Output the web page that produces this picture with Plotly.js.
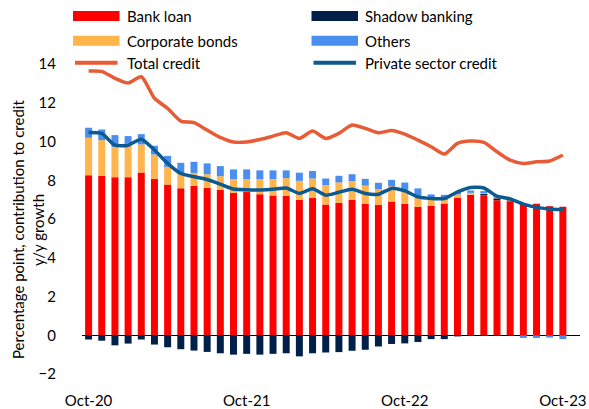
<!DOCTYPE html>
<html><head><meta charset="utf-8">
<script src="https://cdn.plot.ly/plotly-3.0.1.min.js"></script>
<style>html,body{margin:0;padding:0;background:#fff}#chart{width:589px;height:409px}</style>
</head><body><div id="chart"></div>
<script>
const months = ["Oct-20","Nov-20","Dec-20","Jan-21","Feb-21","Mar-21","Apr-21","May-21","Jun-21","Jul-21","Aug-21","Sep-21",
"Oct-21","Nov-21","Dec-21","Jan-22","Feb-22","Mar-22","Apr-22","May-22","Jun-22","Jul-22","Aug-22","Sep-22",
"Oct-22","Nov-22","Dec-22","Jan-23","Feb-23","Mar-23","Apr-23","May-23","Jun-23","Jul-23","Aug-23","Sep-23","Oct-23"];
const tickLabels = ["Oct-20","Oct-21","Oct-22","Oct-23"];

const bankLoan = [8.26,8.23,8.16,8.16,8.40,8.06,7.78,7.59,7.71,7.61,7.50,7.35,
7.39,7.28,7.21,7.20,7.00,7.09,6.75,6.83,6.98,6.78,6.72,6.90,
6.78,6.63,6.68,6.80,7.09,7.25,7.23,6.97,6.92,6.75,6.78,6.66,6.63];
const corporateBonds = [1.93,1.84,1.56,1.74,1.45,1.27,0.91,0.74,0.67,0.70,0.71,0.71,
0.67,0.78,0.85,0.91,0.97,1.00,1.00,1.06,0.98,0.94,0.81,0.79,
0.67,0.50,0.38,0.18,0.18,0.10,0.05,0.03,0.02,0,0,0,0];
const shadowBanking = [-0.22,-0.28,-0.52,-0.43,-0.22,-0.48,-0.62,-0.72,-0.79,-0.86,-0.93,-1.00,
-0.96,-1.00,-0.96,-0.93,-1.09,-0.93,-0.89,-0.87,-0.80,-0.75,-0.58,-0.45,
-0.42,-0.35,-0.20,-0.20,-0.06,-0.02,0.06,0.10,0.04,0.02,0.01,0.01,0];
const others = [0.52,0.55,0.61,0.38,0.53,0.45,0.57,0.57,0.57,0.56,0.52,0.50,
0.50,0.45,0.45,0.40,0.42,0.39,0.34,0.34,0.35,0.35,0.34,0.33,
0.43,0.45,0.21,0.27,0.10,0.12,0.10,0.12,0.02,-0.14,-0.14,-0.12,-0.20];
const totalCredit = [13.64,13.62,13.26,13.02,13.34,12.23,11.71,11.05,10.97,10.59,10.21,9.97,
9.98,10.10,10.28,10.45,10.16,10.54,10.16,10.42,10.85,10.68,10.45,10.57,
10.38,10.07,9.73,9.35,9.90,10.02,9.95,9.47,9.04,8.87,8.95,8.99,9.30];
const privateCredit = [10.47,10.42,9.81,9.81,10.12,9.56,8.87,8.35,8.18,8.04,7.80,7.55,
7.51,7.50,7.53,7.60,7.32,7.56,7.23,7.38,7.53,7.32,7.28,7.58,
7.45,7.14,7.06,7.06,7.40,7.63,7.60,7.18,7.04,6.77,6.60,6.52,6.48];
const yTitleLines = ["Percentage point, contribution to credit", "y/y growth"];

const C = {bank:"#FF0000", bonds:"#FFB54C", shadow:"#00204A", others:"#4A8FF0", total:"#E85C35", priv:"#0B5A91"};
const FONT = "Lato, 'Open Sans', sans-serif";

const W=589, H=409, L=82, R=9, T=64, B=35;
const pw=W-L-R, ph=H-T-B;
const px = x => (x-L)/pw, py = y => (H-B-y)/ph;

function bar(name, y, color){
  return {type:"bar", name, x:months, y, marker:{color, line:{width:0}}, hoverinfo:"y+name"};
}
function line(name, y, color){
  return {type:"scatter", mode:"lines", name, x:months, y, line:{color, width:3.5, shape:"spline", smoothing:0.6}};
}
const data = [
  bar("Bank loan", bankLoan, C.bank),
  bar("Shadow banking", shadowBanking, C.shadow),
  bar("Corporate bonds", corporateBonds, C.bonds),
  bar("Others", others, C.others),
  line("Total credit", totalCredit, C.total),
  line("Private sector credit", privateCredit, C.priv)
];

// manual legend (two columns, three rows)
const legendItems = [
  {name:"Bank loan", color:C.bank, kind:"bar", col:0, row:0},
  {name:"Shadow banking", color:C.shadow, kind:"bar", col:1, row:0},
  {name:"Corporate bonds", color:C.bonds, kind:"bar", col:0, row:1},
  {name:"Others", color:C.others, kind:"bar", col:1, row:1},
  {name:"Total credit", color:C.total, kind:"line", col:0, row:2},
  {name:"Private sector credit", color:C.priv, kind:"line", col:1, row:2}
];
const colX = [73, 311.5], rowY = [16, 40.7, 62.7], swW = 46.5;
const shapes = [], annotations = [];
legendItems.forEach(it => {
  const x0 = colX[it.col], yc = rowY[it.row];
  if (it.kind === "bar") {
    shapes.push({type:"rect", xref:"paper", yref:"paper", x0:px(x0), x1:px(x0+swW), y0:py(yc+5), y1:py(yc-5),
      fillcolor:it.color, line:{width:0}});
  } else {
    shapes.push({type:"line", xref:"paper", yref:"paper", x0:px(x0+2), x1:px(x0+swW-2), y0:py(yc), y1:py(yc),
      line:{color:it.color, width:4}});
  }
  annotations.push({xref:"paper", yref:"paper", x:px(x0+swW+5), y:py(yc), xanchor:"left", yanchor:"middle",
    text:it.name, showarrow:false, font:{family:FONT, size:15, color:"#000"}});
});
// y-axis title (two lines, rotated)
const titleX = [18, 38];
yTitleLines.forEach((t, i) => {
  annotations.push({xref:"paper", yref:"paper", x:px(titleX[i]), y:py(230), xanchor:"center", yanchor:"middle",
    textangle:-90, text:t, showarrow:false, font:{family:FONT, size:15, color:"#000"}});
});

const layout = {
  width:W, height:H, margin:{l:L, r:R, t:T, b:B},
  paper_bgcolor:"#fff", plot_bgcolor:"#fff",
  barmode:"relative", bargap:0.47, showlegend:false,
  font:{family:FONT, size:15, color:"#000"},
  xaxis:{type:"category", range:[-0.5, 37.3], tickvals:tickLabels, ticktext:tickLabels,
    showgrid:false, zeroline:false, showline:false, ticks:"outside", ticklen:13, tickcolor:"rgba(0,0,0,0)",
    tickfont:{family:FONT, size:15}},
  yaxis:{range:[-2,14], dtick:2, tick0:0, showgrid:false, showline:false, zeroline:true,
    zerolinecolor:"#000", zerolinewidth:1.5, layer:"above traces",
    ticks:"outside", ticklen:22, tickcolor:"rgba(0,0,0,0)", tickfont:{family:FONT, size:15}},
  shapes, annotations
};
Plotly.newPlot("chart", data, layout, {displayModeBar:false, staticPlot:true});
</script></body></html>
